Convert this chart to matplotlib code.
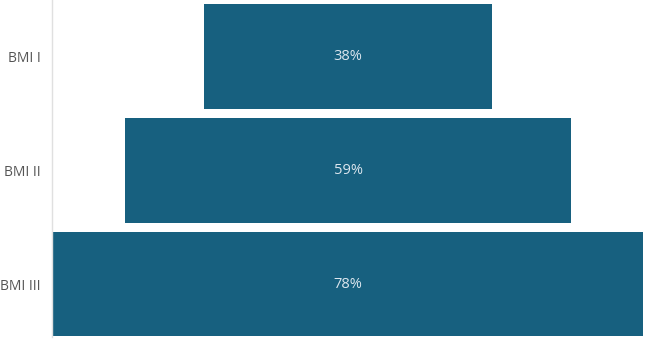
import matplotlib
matplotlib.use("Agg")
import matplotlib.pyplot as plt

categories = ["BMI I", "BMI II", "BMI III"]
values = [38, 59, 78]
labels = ["38%", "59%", "78%"]

bar_color = "#17607F"
text_color = "#DCE6EE"

fig = plt.figure(figsize=(6.45, 3.41), dpi=100)
ax = fig.add_axes([52/645, 4/341, 593/645, 337/341])

ys = list(range(len(categories)))
lefts = [-v/2 for v in values]
ax.barh(ys, values, left=lefts, height=0.92, color=bar_color)
for y, lab in zip(ys, labels):
    ax.text(0, y, lab, ha="center", va="center", color=text_color, fontsize=10.5, family="Open Sans")

ax.set_xlim(-39.13, 39.26)
ax.set_ylim(2.465, -0.496)
ax.set_yticks(ys)
ax.set_yticklabels(categories, fontsize=10, color="#555555", family="Open Sans")
ax.tick_params(axis="y", length=0, pad=8)
ax.set_xticks([])
for s in ["top", "right", "bottom"]:
    ax.spines[s].set_visible(False)
ax.spines["left"].set_color("#E0E0E0")
ax.spines["left"].set_linewidth(1)

fig.savefig("out.png", dpi=100)
